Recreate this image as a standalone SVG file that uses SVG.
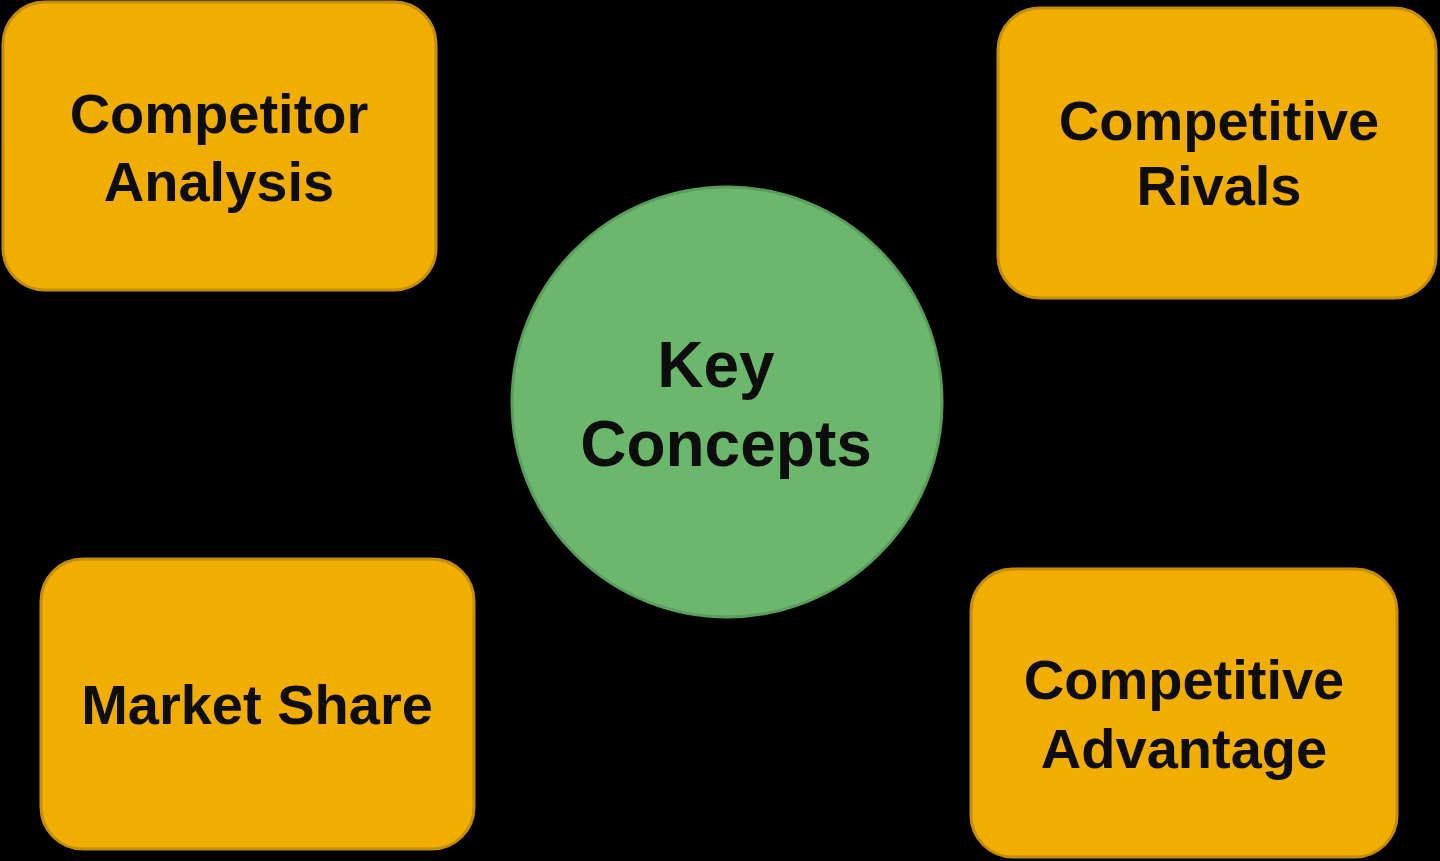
<svg xmlns="http://www.w3.org/2000/svg" width="1440" height="861" viewBox="0 0 1440 861">
<style>
.box{fill:#F1AD00;stroke:#C48E0A;stroke-width:3}
.hub{fill:#6BB86C;stroke:#5A9E5B;stroke-width:3}
.lbl{font-family:"Liberation Sans",Arial,sans-serif;font-weight:bold;font-size:56px;fill:#0d0d0d;text-anchor:middle}
.big{font-size:64px}
</style>
<rect x="0" y="0" width="1440" height="861" fill="#000"/>
<g id="connectors"></g>
<g id="competitor-analysis">
<rect class="box" x="3" y="2" width="433" height="288" rx="42"/>
<text class="lbl" x="219" y="133">Competitor</text>
<text class="lbl" x="219" y="201">Analysis</text>
</g>
<g id="competitive-rivals">
<rect class="box" x="998" y="8" width="438" height="290" rx="42"/>
<text class="lbl" x="1219" y="140">Competitive</text>
<text class="lbl" x="1219" y="205">Rivals</text>
</g>
<g id="key-concepts">
<circle class="hub" cx="727" cy="402" r="215"/>
<text class="lbl big" x="716" y="387">Key</text>
<text class="lbl big" x="726" y="466">Concepts</text>
</g>
<g id="market-share">
<rect class="box" x="41" y="559" width="433" height="290" rx="42"/>
<text class="lbl" x="257" y="724">Market Share</text>
</g>
<g id="competitive-advantage">
<rect class="box" x="971" y="569" width="426" height="288" rx="42"/>
<text class="lbl" x="1184" y="699">Competitive</text>
<text class="lbl" x="1184" y="768">Advantage</text>
</g>
</svg>
